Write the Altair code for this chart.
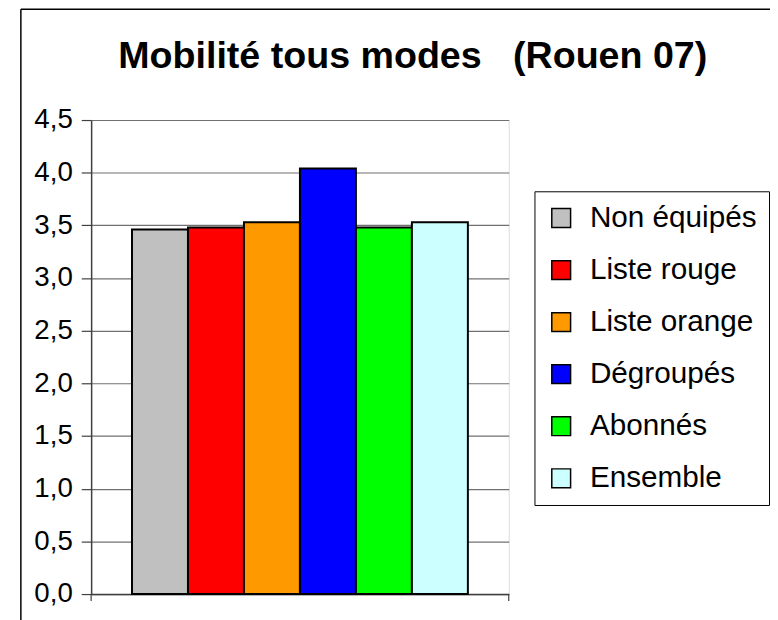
import altair as alt
import pandas as pd

categories = ["Non équipés", "Liste rouge", "Liste orange", "Dégroupés", "Abonnés", "Ensemble"]
values = [3.46, 3.48, 3.53, 4.04, 3.48, 3.53]
colors = ["#C0C0C0", "#FF0000", "#FF9900", "#0000FF", "#00FF00", "#CCFFFF"]
y_ticks = [0, 0.5, 1.0, 1.5, 2.0, 2.5, 3.0, 3.5, 4.0, 4.5]
title_text = "Mobilité tous modes\u00a0\u00a0 (Rouen 07)"

df = pd.DataFrame({"cat": categories, "val": values})

W, H = 422, 479
FONT = "Liberation Sans"

bars = alt.Chart(df).mark_bar(stroke="black", strokeWidth=2).encode(
    x=alt.X("cat:N", sort=categories,
            scale=alt.Scale(paddingInner=0, paddingOuter=0.73),
            axis=alt.Axis(labels=False, ticks=False, title=None, grid=False,
                          domainColor="#404040", domainWidth=1.5)),
    y=alt.Y("val:Q", scale=alt.Scale(domain=[0, 4.5], nice=False, zero=True),
            axis=alt.Axis(values=y_ticks, title=None, grid=True, gridColor="#707070",
                          gridWidth=1.2, domainColor="#404040", domainWidth=1.5,
                          tickColor="#404040", tickSize=10, tickWidth=1.2,
                          labelExpr="replace(format(datum.value, '.1f'), '.', ',')",
                          labelFont=FONT, labelFontSize=28, labelColor="black",
                          labelPadding=9)),
    color=alt.Color("cat:N",
                    scale=alt.Scale(domain=categories, range=colors),
                    legend=alt.Legend(title=None, orient="none", legendX=448, legendY=72,
                                      strokeColor="black", fillColor="white", padding=12,
                                      symbolType="square", symbolSize=361,
                                      symbolStrokeColor="black", symbolStrokeWidth=1.5,
                                      labelFont=FONT, labelFontSize=30, labelColor="black",
                                      rowPadding=22.6, labelOffset=14, labelLimit=0)),
)

one = pd.DataFrame({"k": [0]})
title = alt.Chart(pd.DataFrame({"t": [title_text]})).mark_text(
    font=FONT, fontSize=38, fontWeight="bold", color="black",
    align="center", baseline="alphabetic").encode(
    text="t:N", x=alt.value(325), y=alt.value(-53))
frame_top = alt.Chart(one).mark_rule(color="black", strokeWidth=1.5).encode(
    x=alt.value(-71), x2=alt.value(700), y=alt.value(-112))
frame_left = alt.Chart(one).mark_rule(color="black", strokeWidth=1.5).encode(
    x=alt.value(-71), y=alt.value(-112), y2=alt.value(510))
tick_l = alt.Chart(one).mark_rule(color="#404040", strokeWidth=1.2).encode(
    x=alt.value(0), y=alt.value(H), y2=alt.value(H + 7))
tick_r = alt.Chart(one).mark_rule(color="#404040", strokeWidth=1.2).encode(
    x=alt.value(W), y=alt.value(H), y2=alt.value(H + 7))

chart = alt.layer(bars, title, frame_top, frame_left, tick_l, tick_r).properties(
    width=W, height=H,
    autosize=alt.AutoSizeParams(type="none"),
    padding={"left": 84, "top": 110, "right": 264, "bottom": 23},
).configure_view(stroke=None).configure(background="white")

chart.save("out.html", embed_options={"renderer": "svg", "actions": False})
